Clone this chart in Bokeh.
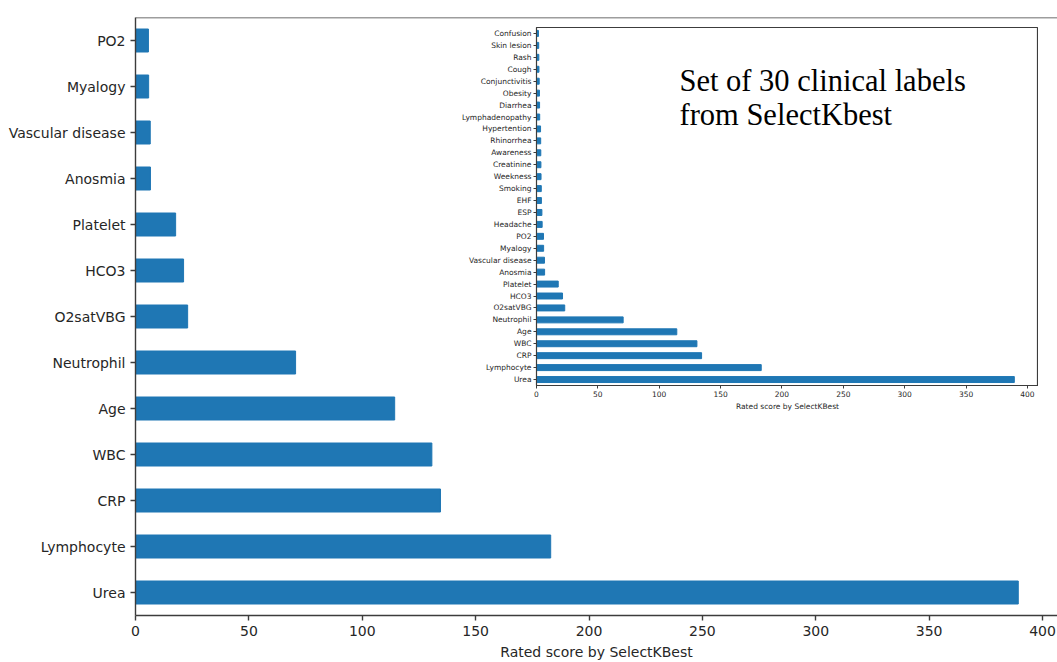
from bokeh.plotting import figure
from bokeh.models import Range1d, FixedTicker, SingleIntervalTicker, Span, Label
from bokeh.layouts import column
from bokeh.embed import file_html
from bokeh.resources import INLINE

# SelectKBest scores for the 30 clinical features, highest first
features = [
    "Urea", "Lymphocyte", "CRP", "WBC", "Age", "Neutrophil", "O2satVBG",
    "HCO3", "Platelet", "Anosmia", "Vascular disease", "Myalogy", "PO2",
    "Headache", "ESP", "EHF", "Smoking", "Weekness", "Creatinine",
    "Awareness", "Rhinorrhea", "Hypertention", "Lymphadenopathy",
    "Diarrhea", "Obesity", "Conjunctivitis", "Cough", "Rash",
    "Skin lesion", "Confusion",
]
scores = [
    389.3, 183.1, 134.5, 130.7, 114.3, 70.6, 23.0,
    21.2, 17.7, 6.6, 6.5, 5.8, 5.7,
    4.6, 4.4, 4.0, 3.9, 3.7, 3.6,
    3.5, 3.4, 3.3, 2.6,
    2.5, 2.4, 2.2, 2.0, 1.9,
    1.8, 1.6,
]
top_k = 13  # features shown in the large chart

x_label = "Rated score by SelectKBest"
note_lines = ["Set of 30 clinical labels", "from SelectKbest"]

BLUE = "#1f77b4"
AXIS = "#3c3c3c"
TEXT = "#262626"
FONT = "DejaVu Sans"


def style(p, n, font_size, tick_out, standoff, width):
    p.xgrid.visible = False
    p.ygrid.visible = False
    p.background_fill_color = "white"
    for ax in (p.xaxis[0], p.yaxis[0]):
        ax.axis_line_color = AXIS
        ax.axis_line_width = width
        ax.major_tick_line_color = AXIS
        ax.major_tick_line_width = width
        ax.major_tick_in = 0
        ax.major_tick_out = tick_out
        ax.minor_tick_line_color = None
        ax.major_label_standoff = standoff
        ax.major_label_text_font = FONT
        ax.major_label_text_font_size = font_size
        ax.major_label_text_color = TEXT
    p.yaxis[0].ticker = FixedTicker(ticks=list(range(n)))
    p.yaxis[0].major_label_overrides = {i: features[i] for i in range(n)}
    p.xaxis[0].ticker = SingleIntervalTicker(interval=50, num_minor_ticks=0)
    p.xaxis[0].axis_label = x_label
    p.xaxis[0].axis_label_text_font = FONT
    p.xaxis[0].axis_label_text_font_size = font_size
    p.xaxis[0].axis_label_text_font_style = "normal"
    p.xaxis[0].axis_label_text_color = TEXT
    p.xaxis[0].axis_label_standoff = standoff


# Both plots share left/right border widths inside the column
BORDER_LEFT = 135
BORDER_RIGHT = 0

# Large chart: the top 13 features
main = figure(
    width=1057, height=662,
    x_range=Range1d(0, 406.6), y_range=Range1d(-0.5, top_k - 0.5),
    min_border_left=BORDER_LEFT, min_border_right=BORDER_RIGHT,
    min_border_top=17, min_border_bottom=46,
    output_backend="svg", toolbar_location=None,
    sizing_mode="fixed", align="start",
)
main.hbar(y=list(range(top_k)), left=0, right=scores[:top_k], height=0.5,
          fill_color=BLUE, line_color=BLUE)
style(main, top_k, "14px", 5, 5, 1.4)
main.border_fill_color = "white"
main.outline_line_color = None
main.add_layout(Span(location=top_k - 0.5, dimension="width",
                     line_color=AXIS, line_width=1.4))

# Inset: all 30 features
n_all = len(features)
inset = figure(
    width=BORDER_LEFT + 502 + BORDER_RIGHT, height=398,
    x_range=Range1d(0, 409), y_range=Range1d(-0.5, n_all - 0.5),
    min_border_left=BORDER_LEFT, min_border_right=BORDER_RIGHT,
    min_border_top=8, min_border_bottom=32,
    output_backend="svg", toolbar_location=None,
    sizing_mode="fixed", align="start",
)
inset.hbar(y=list(range(n_all)), left=0, right=scores, height=0.5,
           fill_color=BLUE, line_color=BLUE)
style(inset, n_all, "7.5px", 3, 2, 1.0)
inset.border_fill_alpha = 0
inset.outline_line_color = AXIS
inset.outline_line_width = 1.2

for text, y in zip(note_lines, (25.05, 22.15)):
    inset.add_layout(Label(
        x=116.5, y=y, text=text, text_font="Liberation Serif",
        text_font_size="30.5px", text_color="black",
        text_baseline="alphabetic", text_align="left",
    ))

# Overlay the inset on the upper right of the large chart
inset.margin = (-643, 1057 - 401 - (BORDER_LEFT + 502 + BORDER_RIGHT), 0, 401)
main.margin = (0, 0, 0, 0)
p = column(main, inset, spacing=0)

open("out.html", "w").write(file_html(p, INLINE))
